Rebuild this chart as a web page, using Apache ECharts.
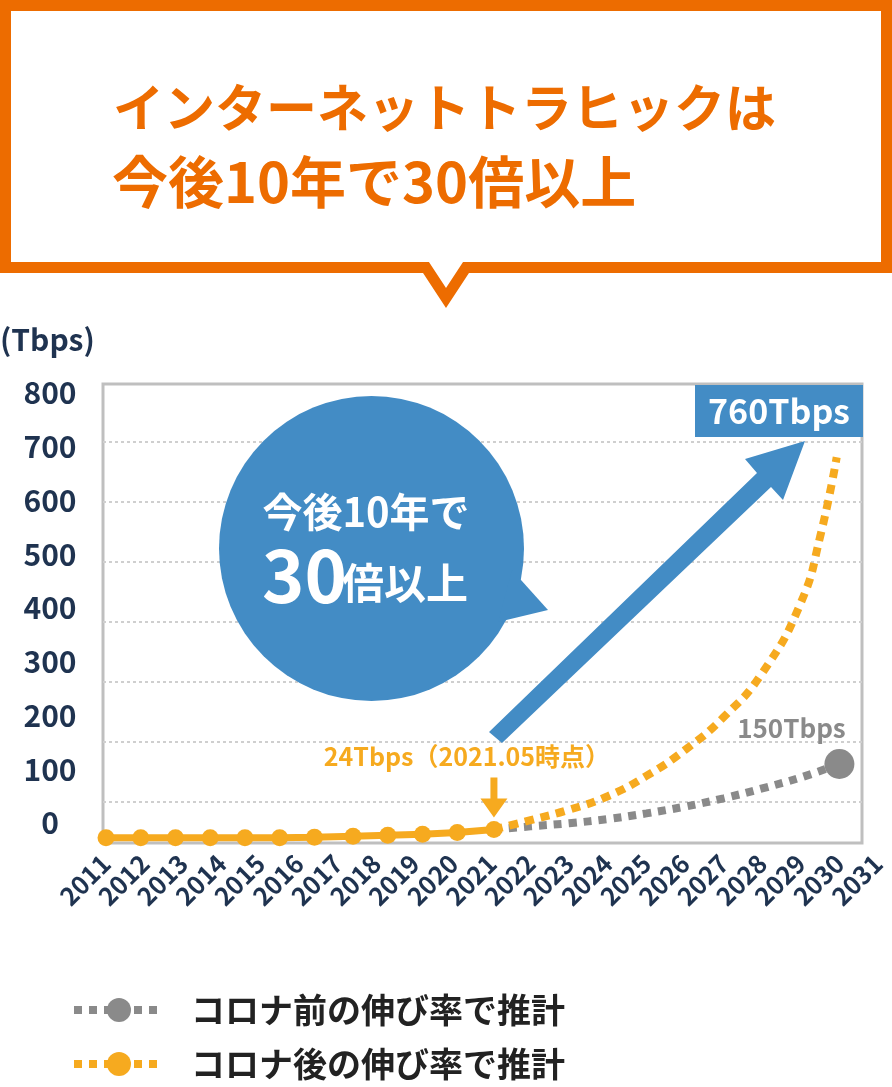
<!DOCTYPE html>
<html lang="ja">
<head>
<meta charset="utf-8">
<title>インターネットトラヒック</title>
<script src="https://cdn.jsdelivr.net/npm/echarts@6.0.0/dist/echarts.min.js"></script>
<style>
  html, body { margin: 0; padding: 0; background: #fff; }
  #chart { width: 892px; height: 1087px; }
</style>
</head>
<body>
<div id="chart"></div>
<script>
// --- données ---
const yearMin = 2011;
const yearMax = 2031;
const tbpsLabelMin = 0;
const tbpsLabelMax = 800;
const tbpsLabelStep = 100;

// 実績 (points orange pleins)
const actualYears = [2011, 2011.9, 2012.8, 2013.7, 2014.6, 2015.5, 2016.4, 2017.4, 2018.3, 2019.2, 2020.1, 2021.05];
const actualTbps  = [8, 8, 8, 8, 8, 8, 9, 11, 13, 15, 18, 24];

// コロナ前の伸び率で推計 (gris)
const preYears = [2021.05, 2022, 2023, 2024, 2025, 2026, 2027, 2028, 2029, 2030];
const preTbps  = [24, 30, 36, 44, 55, 68, 84, 103, 124, 150];

// コロナ後の伸び率で推計 (orange pointillé)
const postYears = [2021.05, 2022, 2023, 2024, 2025, 2026, 2027, 2028, 2029, 2029.5, 2029.93];
const postTbps  = [24, 42, 62, 88, 127, 177, 240, 325, 460, 587, 740];

const preName = "コロナ前の伸び率で推計";
const postName = "コロナ後の伸び率で推計";

const FONT = "Noto Sans CJK JP";
const ORANGE = "#f6aa1f";
const GRAY = "#8a8a8a";
const BLUE = "#438cc5";
const NAVY = "#1f3350";
const TITLE_ORANGE = "#ed6c00";

const pairs = (xs, ys) => xs.map((x, i) => [x, ys[i]]);

const chart = echarts.init(document.getElementById("chart"));

const option = {
    animation: false,
    backgroundColor: "#fff",
    textStyle: { fontFamily: FONT },
    grid: [
        // cadre
        { left: 103, top: 384, width: 759, height: 459, show: true, borderColor: "#bfbfbf", borderWidth: 3 },
        // lignes pointillées
        { left: 103, top: 442, width: 759, height: 360 },
        // graduations de gauche
        { left: 103, top: 393, width: 10, height: 430 },
        // données
        { left: 106, top: 384, width: 772, height: 459 }
    ],
    xAxis: [
        { gridIndex: 0, type: "value", show: false },
        { gridIndex: 1, type: "value", show: false },
        { gridIndex: 2, type: "value", show: false },
        {
            gridIndex: 3,
            type: "value",
            min: yearMin,
            max: yearMax,
            interval: 1,
            axisLine: { show: false },
            axisTick: { show: false },
            splitLine: { show: false },
            axisLabel: {
                rotate: 45,
                margin: 16,
                color: NAVY,
                fontSize: 25,
                fontWeight: "bold",
                fontFamily: FONT,
                showMinLabel: true,
                showMaxLabel: true,
                formatter: v => String(v)
            }
        }
    ],
    yAxis: [
        { gridIndex: 0, type: "value", show: false },
        {
            gridIndex: 1,
            type: "value",
            min: 0,
            max: 600,
            interval: 100,
            axisLine: { show: false },
            axisTick: { show: false },
            axisLabel: { show: false },
            splitLine: { show: true, lineStyle: { color: "#cfcfcf", width: 2, type: [3, 3] } }
        },
        {
            gridIndex: 2,
            type: "value",
            min: tbpsLabelMin,
            max: tbpsLabelMax,
            interval: tbpsLabelStep,
            axisLine: { show: false },
            axisTick: { show: false },
            splitLine: { show: false },
            axisLabel: {
                align: "center",
                margin: 53,
                color: NAVY,
                fontSize: 30,
                fontWeight: "bold",
                fontFamily: FONT
            }
        },
        { gridIndex: 3, type: "value", min: -2, max: 881, show: false }
    ],
    legend: {
        data: [preName, postName],
        orient: "vertical",
        left: 65,
        top: 988,
        itemWidth: 90,
        itemHeight: 30,
        itemGap: 20,
        selectedMode: false,
        lineStyle: { width: 8, type: [8, 7] },
        textStyle: {
            fontSize: 34,
            fontWeight: "bold",
            color: "#222",
            fontFamily: FONT,
            padding: [0, 0, 0, 22]
        }
    },
    series: [
        {
            name: preName,
            type: "line",
            xAxisIndex: 3,
            yAxisIndex: 3,
            clip: false,
            smooth: 0.4,
            symbol: "circle",
            symbolSize: (v, p) => (p.dataIndex === preYears.length - 1 ? 30 : 0),
            lineStyle: { color: GRAY, width: 8, type: [8, 7] },
            itemStyle: { color: GRAY },
            label: {
                show: true,
                position: "top",
                distance: 8,
                offset: [-48, 0],
                color: GRAY,
                fontSize: 26,
                fontWeight: "bold",
                fontFamily: FONT,
                formatter: p => (p.dataIndex === preYears.length - 1 ? "150Tbps" : "")
            },
            z: 3,
            data: pairs(preYears, preTbps)
        },
        {
            name: postName,
            type: "line",
            xAxisIndex: 3,
            yAxisIndex: 3,
            clip: false,
            smooth: 0.5,
            symbol: "none",
            lineStyle: { color: ORANGE, width: 8, type: [9, 7] },
            itemStyle: { color: ORANGE },
            z: 4,
            data: pairs(postYears, postTbps)
        },
        {
            name: "実績",
            type: "line",
            xAxisIndex: 3,
            yAxisIndex: 3,
            clip: false,
            symbol: "circle",
            symbolSize: 17,
            lineStyle: { color: ORANGE, width: 7 },
            itemStyle: { color: ORANGE },
            z: 5,
            markPoint: {
                symbol: "path://M10,0 L17,0 L17,21 L27,21 L13.5,40 L0,21 L10,21 Z",
                symbolSize: [27, 40],
                symbolOffset: [0, -32],
                itemStyle: { color: ORANGE },
                label: {
                    show: true,
                    position: "top",
                    distance: 8,
                    offset: [-27, 0],
                    color: ORANGE,
                    fontSize: 25,
                    fontWeight: "bold",
                    fontFamily: FONT,
                    formatter: "24Tbps（2021.05時点）"
                },
                data: [{ coord: [actualYears[actualYears.length - 1], actualTbps[actualTbps.length - 1]] }]
            },
            data: pairs(actualYears, actualTbps)
        }
    ],
    graphic: {
        elements: [
            // bulle du titre
            {
                type: "polygon",
                z: 50,
                shape: {
                    points: [[5.5, 5.5], [886.5, 5.5], [886.5, 267.5], [466, 267.5], [446, 298],
                             [426, 267.5], [5.5, 267.5]]
                },
                style: { fill: "#fff", stroke: TITLE_ORANGE, lineWidth: 11, lineJoin: "miter" }
            },
            {
                type: "text", z: 51, x: 113, y: 108,
                style: { text: "インターネットトラヒックは", fill: TITLE_ORANGE, font: "bold 51px '" + FONT + "'",
                         verticalAlign: "middle" }
            },
            {
                type: "text", z: 51, x: 112, y: 182,
                style: { text: "今後10年で30倍以上", fill: TITLE_ORANGE, font: "bold 56px '" + FONT + "'",
                         verticalAlign: "middle" }
            },
            // unité
            {
                type: "text", z: 51, x: 0, y: 340,
                style: { text: "(Tbps)", fill: NAVY, font: "bold 30px '" + FONT + "'", verticalAlign: "middle" }
            },
            // bulle bleue
            {
                type: "circle", z: 20,
                shape: { cx: 371.5, cy: 548.5, r: 152.5 },
                style: { fill: BLUE }
            },
            {
                type: "polygon", z: 20,
                shape: { points: [[512, 570], [548, 610], [498, 622]] },
                style: { fill: BLUE }
            },
            {
                type: "text", z: 21, x: 366, y: 512,
                style: { text: "今後10年で", fill: "#fff", font: "bold 40px '" + FONT + "'",
                         align: "center", verticalAlign: "middle" }
            },
            {
                type: "text", z: 21, x: 262, y: 576,
                style: { text: "30", fill: "#fff", font: "bold 72px '" + FONT + "'",
                         align: "left", verticalAlign: "middle" }
            },
            {
                type: "text", z: 21, x: 342, y: 583,
                style: { text: "倍以上", fill: "#fff", font: "bold 42px '" + FONT + "'",
                         align: "left", verticalAlign: "middle" }
            },
            // grande flèche bleue
            {
                type: "polygon", z: 20,
                shape: {
                    points: [[489, 732], [757, 473], [745, 459], [805, 441], [783, 500], [771, 487], [502, 743]]
                },
                style: { fill: BLUE }
            },
            // étiquette 760Tbps
            {
                type: "rect", z: 20,
                shape: { x: 695, y: 385, width: 168, height: 52 },
                style: { fill: BLUE }
            },
            {
                type: "text", z: 21, x: 779, y: 411,
                style: { text: "760Tbps", fill: "#fff", font: "bold 34px '" + FONT + "'",
                         align: "center", verticalAlign: "middle" }
            }
        ]
    }
};

chart.setOption(option);
window.addEventListener("resize", () => chart.resize());
</script>
</body>
</html>
